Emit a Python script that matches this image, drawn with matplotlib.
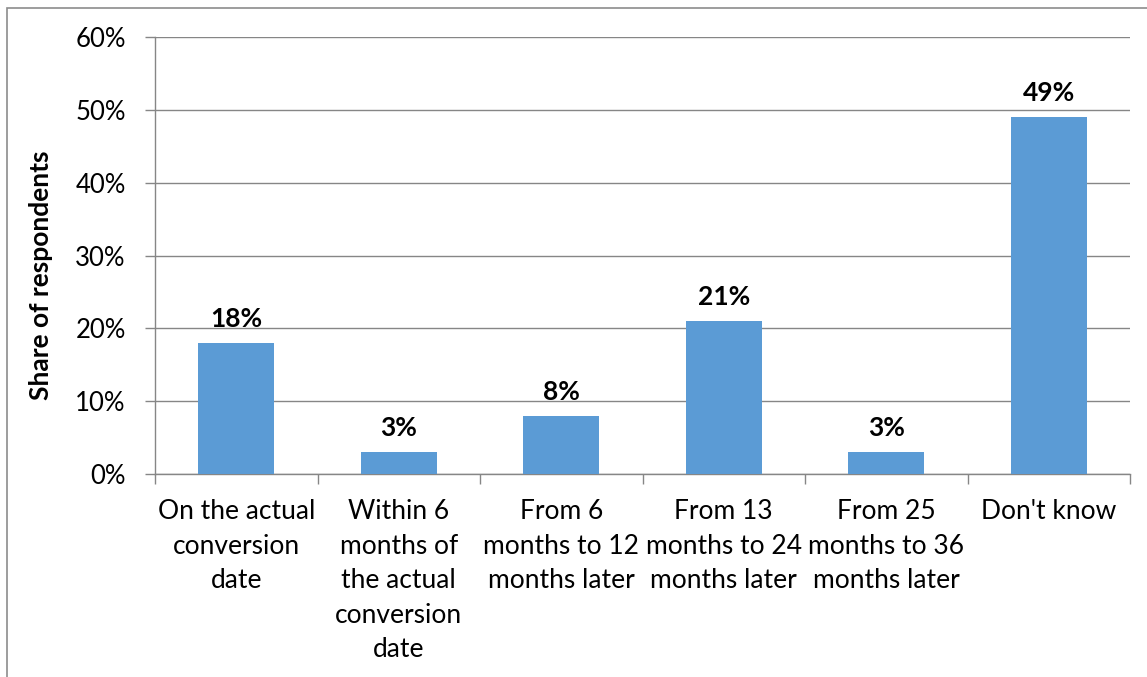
import matplotlib
matplotlib.use("Agg")
import matplotlib.pyplot as plt
from matplotlib.patches import Rectangle
from matplotlib.ticker import FixedLocator, NullFormatter

categories = [
    "On the actual\nconversion\ndate",
    "Within 6\nmonths of\nthe actual\nconversion\ndate",
    "From 6\nmonths to 12\nmonths later",
    "From 13\nmonths to 24\nmonths later",
    "From 25\nmonths to 36\nmonths later",
    "Don't know",
]
shares = [18, 3, 8, 21, 3, 49]
y_ticks = [0, 10, 20, 30, 40, 50, 60]

plt.rcParams['font.family'] = ['Lato', 'DejaVu Sans']

W, H = 1147, 677
fig = plt.figure(figsize=(W / 100, H / 100), dpi=100)
ax = fig.add_axes([155 / W, 1 - 474 / H, (1130 - 155) / W, (474 - 37) / H])

grid_col = '#868686'
x = list(range(len(categories)))
ax.bar(x, shares, width=0.47, color='#5B9BD5', zorder=3)
for xi, v in zip(x, shares):
    ax.text(xi, v + 1.6, f"{v}%", ha='center', va='bottom',
            fontsize=19, fontweight='bold', zorder=4)

ax.set_xlim(-0.5, len(categories) - 0.5)
ax.set_ylim(0, 60)
ax.set_yticks(y_ticks)
ax.set_yticklabels([f"{t}%" for t in y_ticks], fontsize=18.5)
ax.yaxis.grid(True, color=grid_col, linewidth=1, zorder=0)

# category labels sit between boundary ticks
ax.set_xticks(x)
ax.set_xticklabels(categories, fontsize=19, linespacing=1.48, va='top')
ax.tick_params(axis='x', which='major', length=0, pad=18)
ax.xaxis.set_minor_locator(FixedLocator([i - 0.5 for i in range(len(categories) + 1)]))
ax.xaxis.set_minor_formatter(NullFormatter())
ax.tick_params(axis='x', which='minor', length=7, color=grid_col, width=1)
ax.tick_params(axis='y', length=7, color=grid_col, width=1, pad=14)

for side in ['top', 'right']:
    ax.spines[side].set_visible(False)
for side in ['left', 'bottom']:
    ax.spines[side].set_color(grid_col)
    ax.spines[side].set_linewidth(1)

ax.set_ylabel("Share of respondents", fontsize=19, fontweight='bold', labelpad=16)
ax.yaxis.label.set_y(0.455)

# outer chart border (only left and top edges fall inside the figure)
fig.patches.append(Rectangle((7.5 / W, -0.1), 1.2, 1 - 7.5 / H + 0.1,
                             transform=fig.transFigure, fill=False,
                             edgecolor='#8c8c8c', linewidth=1.2))

fig.savefig("out.png", dpi=100)
